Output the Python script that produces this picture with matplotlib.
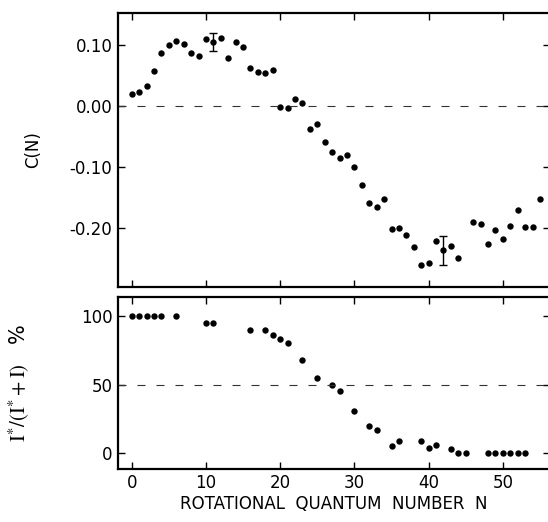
import numpy as np
import matplotlib.pyplot as plt

# C(N) alignment parameter vs rotational quantum number
n_top = list(range(0, 45)) + list(range(46, 56))
c_top = [0.019, 0.022, 0.033, 0.057, 0.086, 0.100, 0.106, 0.102, 0.086, 0.082,
         0.109, 0.104, 0.111, 0.078, 0.104, 0.097, 0.062, 0.055, 0.054, 0.058,
         -0.002, -0.003, 0.011, 0.004, -0.038, -0.030, -0.060, -0.075, -0.085, -0.080,
         -0.100, -0.130, -0.160, -0.166, -0.153, -0.202, -0.201, -0.211, -0.231, -0.261,
         -0.257, -0.221, -0.237, -0.230, -0.249,
         -0.191, -0.194, -0.226, -0.203, -0.218, -0.197, -0.171, -0.198, -0.198, -0.153]

# representative error bars
n_err = [11, 42]
c_err = [0.104, -0.237]
c_err_size = [0.0145, 0.024]

# I*/(I*+I) percentage
n_bot = [0, 1, 2, 3, 4, 6, 10, 11, 16, 18, 19, 20, 21, 23, 25, 27, 28, 30, 32, 33,
         35, 36, 39, 40, 41, 43, 44, 45, 48, 49, 50, 51, 52, 53]
p_bot = [100, 100, 100, 100, 100, 100, 95, 95, 90, 90, 86, 83, 80, 68, 55, 50, 45.5, 31, 20, 16.5,
         5, 8.5, 8.5, 4, 6, 3, 0.2, 0.2, 0, 0, 0, 0, 0, 0]

top_ticks = [0.10, 0.00, -0.10, -0.20]
top_ticklabels = ['0.10', '0.00', '-0.10', '-0.20']
bot_ticks = [0, 50, 100]
x_ticks = [0, 10, 20, 30, 40, 50]

W, H = 548, 522
fig = plt.figure(figsize=(W / 100, H / 100), dpi=100)
plt.rcParams['font.family'] = ['DejaVu Sans']


def px_axes(left, top, right, bottom):
    return fig.add_axes([left / W, 1 - bottom / H, (right - left) / W, (bottom - top) / H])


ax1 = px_axes(118, 13, 550, 287)
ax2 = px_axes(118, 297, 550, 469)

xlim = (-1.85, 56.35)
dash = (0, (7.2, 9.9))

for ax in (ax1, ax2):
    ax.set_xlim(*xlim)
    ax.set_xticks(x_ticks)
    for s in ax.spines.values():
        s.set_linewidth(1.6)
    ax.tick_params(axis='x', direction='in', top=True, length=5, width=1, labelsize=12)
    ax.tick_params(axis='y', direction='in', right=True, length=5, width=1, labelsize=12, pad=4)

ax1.plot(n_top, c_top, 'o', color='black', markersize=4.6, markeredgewidth=0)
ax1.errorbar(n_err, c_err, yerr=c_err_size, fmt='none', ecolor='black', elinewidth=1,
             capsize=3, capthick=1)
ax1.axhline(0, color='#333333', lw=0.8, linestyle=dash)
ax1.set_ylim(-0.297, 0.152)
ax1.set_yticks(top_ticks)
ax1.set_yticklabels(top_ticklabels)
ax1.tick_params(axis='x', labelbottom=False)
ax1.set_ylabel('C(N)', fontsize=12)
ax1.yaxis.set_label_coords(-0.175, 0.5)

ax2.plot(n_bot, p_bot, 'o', color='black', markersize=4.6, markeredgewidth=0)
ax2.axhline(50, color='#333333', lw=0.8, linestyle=dash)
ax2.set_ylim(-11.6, 113.8)
ax2.set_yticks(bot_ticks)
ax2.set_xlabel('ROTATIONAL  QUANTUM  NUMBER  N', fontsize=12, labelpad=2)
ax2.set_ylabel(r'$\mathrm{I}^{*}/(\mathrm{I}^{*}+\mathrm{I})$   %', fontsize=15,
               math_fontfamily='stix')
ax2.yaxis.set_label_coords(-0.2, 0.5)

fig.savefig('out.png', dpi=100)
